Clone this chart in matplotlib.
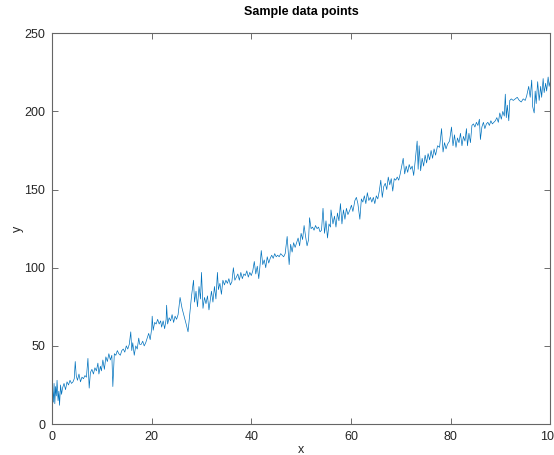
import matplotlib
matplotlib.use("Agg")
import matplotlib.pyplot as plt

plt.rcParams['font.family'] = ['Liberation Sans', 'DejaVu Sans']

title = "Sample data points"
x_label = "x"
y_label = "y"
x_ticks = [0, 20, 40, 60, 80, 100]
y_ticks = [0, 50, 100, 150, 200, 250]

x_vals = [
    0.1, 0.25, 0.4, 0.55, 0.7, 0.85, 1.0, 1.2, 1.35, 1.5, 1.7, 1.9,
    2.1, 2.4, 2.7, 3.0, 3.3, 3.6, 3.9, 4.2, 4.45, 4.65, 4.85,
    5.1, 5.4, 5.7, 6.0, 6.3, 6.6, 6.9, 7.2, 7.45,
    7.7, 8.0, 8.3, 8.6, 8.9, 9.2, 9.4, 9.7, 9.9,
    10.2, 10.5, 10.8, 11.1, 11.4, 11.7, 12.0, 12.2,
    12.5, 12.8, 13.1, 13.4, 13.7, 14.0, 14.3, 14.6, 14.9, 15.2, 15.5, 15.8,
    16.0, 16.2, 16.5, 16.8, 17.1, 17.4, 17.6, 17.9, 18.2, 18.5, 18.8,
    19.1, 19.4, 19.7, 20.0, 20.1, 20.3, 20.6, 20.9, 21.2, 21.5, 21.8,
    22.0, 22.3, 22.6, 22.9, 23.0, 23.2, 23.5, 23.8, 24.1, 24.4, 24.7, 25.0, 25.3, 25.7,
    26.1, 26.6, 27.0, 27.3, 27.7, 28.0, 28.4,
    28.6, 28.9, 29.2, 29.5, 29.8, 30.0, 30.3, 30.6, 30.9, 31.2, 31.5, 31.8,
    32.0, 32.3, 32.6, 32.9, 33.2, 33.4, 33.7, 34.0, 34.3,
    34.6, 34.9, 35.2, 35.5, 35.8, 36.1, 36.4, 36.7,
    37.0, 37.3, 37.6, 37.9, 38.2, 38.5, 38.8, 39.1, 39.4, 39.7, 40.0, 40.3,
    40.6, 40.9, 41.2, 41.5, 41.8, 42.0, 42.3, 42.6, 42.9, 43.2, 43.5, 43.8,
    44.1, 44.4, 44.7, 45.0, 45.3, 45.6, 45.9, 46.2, 46.5, 46.8, 47.2, 47.6,
    47.9, 48.2, 48.5, 48.8, 49.1, 49.4, 49.7, 50.0, 50.3, 50.6, 50.9,
    51.2, 51.5, 51.7, 52.0, 52.3, 52.6, 52.9, 53.2, 53.5, 53.8, 54.1, 54.4,
    54.7, 55.0, 55.3, 55.6, 55.9, 56.0, 56.4, 56.7, 57.0, 57.3, 57.6, 57.9,
    58.2, 58.5, 58.8, 59.1, 59.4, 59.8, 60.1, 60.4, 60.8, 61.1, 61.4, 61.8,
    62.1, 62.4, 62.7, 63.0, 63.3, 63.6, 63.9, 64.2, 64.5, 64.8, 65.1, 65.4,
    65.7, 66.0, 66.3, 66.6, 66.9, 67.2, 67.5, 67.8, 68.1, 68.4, 68.7, 69.0,
    69.3, 69.6, 69.9, 70.5, 70.8, 71.1, 71.4, 71.7, 72.0, 72.3, 72.6, 72.9,
    73.3, 73.5, 73.7, 74.0, 74.3, 74.6, 74.9, 75.2, 75.5, 75.8,
    76.1, 76.4, 76.7, 77.0, 77.4, 77.8, 78.2, 78.5, 78.8, 79.1, 79.4,
    79.8, 80.2, 80.5, 80.8, 81.1, 81.4, 81.7, 82.0, 82.3, 82.6, 82.9,
    83.2, 83.4, 83.7, 84.0, 84.3, 84.6, 84.9, 85.2, 85.5, 85.8, 86.0,
    86.3, 86.6, 86.9, 87.2, 87.5, 87.8, 88.1, 88.4, 88.7, 89.0,
    89.3, 89.6, 89.9, 90.2, 90.5, 90.8, 91.0, 91.2, 91.4, 91.7, 91.9,
    92.2, 92.6, 93.0, 93.4, 93.8, 94.2, 94.6, 95.0, 95.3, 95.7,
    96.0, 96.3, 96.5, 96.8, 97.0, 97.2, 97.5, 97.8, 98.1, 98.3,
    98.6, 98.8, 99.1, 99.3, 99.6, 99.8, 100.0,
]

y_vals = [
    22, 14, 26, 13, 24, 18, 28, 15, 21, 12, 25, 19,
    23, 26, 22, 27, 25, 28, 26, 27, 29, 40, 31,
    28, 32, 27, 30, 29, 31, 30, 42, 23,
    33, 35, 32, 36, 34, 39, 32, 37, 34,
    41, 35, 43, 40, 45, 41, 44, 24,
    45, 44, 47, 45, 44, 47, 48, 46, 50, 48, 51, 59,
    47, 52, 44, 50, 48, 55, 51, 51, 53, 50, 52,
    55, 58, 54, 61, 69, 60, 65, 64, 67, 64, 66,
    62, 66, 61, 67, 76, 64, 68, 66, 70, 65, 69, 67, 70, 81,
    74, 68, 63, 59, 72, 82, 92,
    78, 85, 75, 88, 80, 97, 74, 81, 77, 82, 73, 80,
    85, 78, 88, 80, 97, 86, 90, 83, 92,
    89, 92, 90, 93, 89, 91, 100, 92,
    94, 96, 92, 97, 93, 96, 95, 98, 94, 97, 95, 98,
    104, 96, 101, 93, 103, 111, 102, 105, 100, 107, 103, 106,
    108, 106, 109, 107, 108, 107, 109, 108, 107, 109, 120, 102,
    115, 110, 116, 113, 116, 119, 114, 122, 118, 127, 120,
    114, 118, 132, 125, 126, 124, 127, 125, 126, 123, 124, 138,
    122, 130, 119, 128, 126, 137, 128, 133, 126, 135, 130, 141,
    128, 137, 131, 138, 134, 137, 140, 136, 143, 145, 141, 131,
    144, 142, 146, 141, 148, 143, 145, 142, 145, 141, 146, 144,
    149, 156, 145, 152, 154, 150, 158, 153, 157, 149, 157, 156,
    158, 156, 160, 170, 160, 165, 161, 166, 163, 165, 159, 168,
    181, 163, 178, 162, 170, 165, 172, 167, 173, 169,
    175, 170, 176, 172, 178, 177, 189, 174, 180, 176, 179,
    181, 190, 178, 185, 177, 183, 180, 186, 178, 184, 181,
    189, 178, 186, 180, 191, 192, 190, 193, 191, 195, 182,
    190, 193, 189, 192, 193, 191, 194, 192, 193, 194,
    196, 193, 199, 195, 200, 197, 211, 196, 204, 194, 207,
    208, 207, 208, 209, 207, 206, 208, 207, 210, 216,
    209, 220, 203, 199, 213, 205, 219, 207, 216, 209,
    221, 212, 218, 213, 222, 216, 219,
]

fig = plt.figure(figsize=(5.54, 4.55), dpi=100)
ax = fig.add_axes([0.094, 0.068, 0.899, 0.859])
ax.plot(x_vals, y_vals, color='#0072bd', lw=0.5)

ax.set_xlim(0, 100)
ax.set_ylim(0, 250)
ax.set_xticks(x_ticks)
ax.set_yticks(y_ticks)
ax.tick_params(direction='in', top=True, right=True, length=4, width=0.6,
               colors='#555555', labelcolor='#262626', labelsize=9, pad=5)
for s in ax.spines.values():
    s.set_color('#666666')
    s.set_linewidth(0.8)
ax.set_title(title, fontsize=9, fontweight='bold', pad=13)
ax.set_xlabel(x_label, fontsize=9, labelpad=1, color='#262626')
ax.set_ylabel(y_label, fontsize=9, labelpad=0, color='#262626')

fig.savefig('out.png', dpi=100)
